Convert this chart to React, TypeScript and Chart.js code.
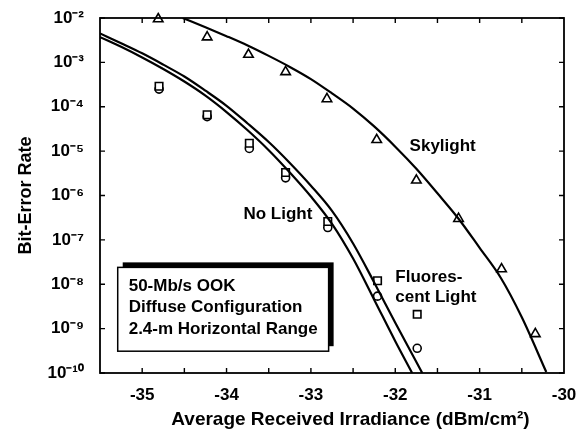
import React, { useEffect, useRef } from 'react';
import { Chart, registerables } from 'chart.js';

Chart.register(...registerables);

// ---- axis ticks ----
const xTickValues = [-35, -34, -33, -32, -31, -30];
const xMinorTickValues = [-35, -34.5, -34, -33.5, -33, -32.5, -32, -31.5, -31, -30.5];
const yTickExponents = [-2, -3, -4, -5, -6, -7, -8, -9, -10];

// ---- measured points ----
const sampleIrradiance = [-34.8, -34.23, -33.73, -33.3, -32.8, -32.21, -31.74];
const noLightBER = [2.5e-4, 6e-5, 1.15e-5, 2.5e-6, 1.9e-7, 5.4e-9, 3.6e-10];
const fluorescentBER = [2.9e-4, 6.6e-5, 1.5e-5, 3.3e-6, 2.6e-7, 1.2e-8, 2.1e-9];
const skylightIrradiance = [-34.81, -34.23, -33.74, -33.3, -32.81, -32.22, -31.75, -31.25, -30.74, -30.34];
const skylightBER = [9.5e-3, 3.7e-3, 1.5e-3, 6.1e-4, 1.5e-4, 1.8e-5, 2.2e-6, 3e-7, 2.2e-8, 7.6e-10];

// ---- theoretical curves ----
const fluorescentFitX = [-35.5, -35.25, -35, -34.75, -34.5, -34.25, -34, -33.75, -33.5, -33.25, -33, -32.75, -32.5, -32.25, -32, -31.68];
const fluorescentFitBER = [4.5e-3, 2.7e-3, 1.6e-3, 8.9e-4, 4.8e-4, 2.3e-4, 1.05e-4, 4.2e-5, 1.6e-5, 5.4e-6, 1.66e-6, 4.5e-7, 8.3e-8, 1.1e-8, 1.35e-9, 1e-10];
const noLightFitX = [-35.5, -35.25, -35, -34.75, -34.5, -34.25, -34, -33.75, -33.5, -33.25, -33, -32.75, -32.5, -32.25, -32, -31.8];
const noLightFitBER = [3.7e-3, 2.24e-3, 1.29e-3, 7.1e-4, 3.7e-4, 1.78e-4, 7.6e-5, 2.95e-5, 1.05e-5, 3.3e-6, 9.5e-7, 2.3e-7, 3.8e-8, 4.5e-9, 5.2e-10, 1e-10];
const skylightFitX = [-34.52, -34.25, -34, -33.75, -33.5, -33.25, -33, -32.75, -32.5, -32.25, -32, -31.75, -31.5, -31.25, -31, -30.75, -30.5, -30.21];
const skylightFitBER = [1e-2, 6.2e-3, 3.9e-3, 2.4e-3, 1.4e-3, 7.9e-4, 4.2e-4, 2.0e-4, 9.1e-5, 3.6e-5, 1.26e-5, 4e-6, 1.12e-6, 3e-7, 6.6e-8, 1.4e-8, 1.8e-9, 1.05e-10];

// ---- annotations (data coordinates) ----
const curveLabels = ['Skylight', 'No Light', 'Fluores-', 'cent Light'];
const curveLabelX = [-31.83, -33.8, -32.0, -32.0];
const curveLabelY = [1.3e-5, 3.7e-7, 1.45e-8, 5.1e-9];
const boxLines = ['50-Mb/s OOK', 'Diffuse Configuration', '2.4-m Horizontal Range'];
const boxLineY = [9e-9, 3e-9, 9.8e-10];
const boxTextX = -35.16;
const boxXRange = [-35.29, -32.79];
const boxYRange = [2.4e-8, 3.1e-10];

const FONT = '"Liberation Sans", Arial, Helvetica, sans-serif';
const SUP: Record<string, string> = {
  '-': '\u207B', '0': '\u2070', '1': '\u00B9', '2': '\u00B2', '3': '\u00B3',
  '4': '\u2074', '5': '\u2075', '6': '\u2076', '7': '\u2077', '8': '\u2078', '9': '\u2079',
};
const sup = (s: string) => s.split('').map((c) => SUP[c] ?? c).join('');

const pairs = (xs: number[], ys: number[]) => xs.map((x, i) => ({ x, y: ys[i] }));

const framePlugin = {
  id: 'frameAndNotes',
  afterDatasetsDraw(chart: any) {
    const { ctx, chartArea: a, scales } = chart;
    const xs = scales.x;
    const ys = scales.y;
    ctx.save();
    ctx.strokeStyle = '#000';
    ctx.lineWidth = 1.8;
    ctx.strokeRect(a.left, a.top, a.right - a.left, a.bottom - a.top);
    ctx.lineWidth = 1.4;
    const tl = 5;
    ctx.beginPath();
    xMinorTickValues.forEach((v) => {
      const px = xs.getPixelForValue(v);
      ctx.moveTo(px, a.bottom);
      ctx.lineTo(px, a.bottom - tl);
      ctx.moveTo(px, a.top);
      ctx.lineTo(px, a.top + tl);
    });
    yTickExponents.forEach((e) => {
      const py = ys.getPixelForValue(Math.pow(10, e));
      ctx.moveTo(a.left, py);
      ctx.lineTo(a.left + tl, py);
      ctx.moveTo(a.right, py);
      ctx.lineTo(a.right - tl, py);
    });
    ctx.stroke();

    ctx.fillStyle = '#000';
    ctx.font = `bold 17px ${FONT}`;
    ctx.textBaseline = 'middle';
    ctx.textAlign = 'left';
    curveLabels.forEach((t, i) => {
      ctx.fillText(t, xs.getPixelForValue(curveLabelX[i]), ys.getPixelForValue(curveLabelY[i]));
    });

    // info box with offset shadow
    const bl = xs.getPixelForValue(boxXRange[0]);
    const br = xs.getPixelForValue(boxXRange[1]);
    const bt = ys.getPixelForValue(boxYRange[0]);
    const bb = ys.getPixelForValue(boxYRange[1]);
    ctx.fillStyle = '#000';
    ctx.fillRect(bl + 5, bt - 5, br - bl, bb - bt);
    ctx.fillStyle = '#fff';
    ctx.fillRect(bl, bt, br - bl, bb - bt);
    ctx.lineWidth = 1.5;
    ctx.strokeRect(bl, bt, br - bl, bb - bt);
    ctx.fillStyle = '#000';
    boxLines.forEach((t, i) => {
      ctx.fillText(t, xs.getPixelForValue(boxTextX), ys.getPixelForValue(boxLineY[i]));
    });
    ctx.restore();
  },
};

export default function App() {
  const ref = useRef<HTMLCanvasElement | null>(null);
  useEffect(() => {
    if (!ref.current) return;
    const lineStyle = { borderColor: '#000', borderWidth: 2.2, pointRadius: 0, showLine: true, cubicInterpolationMode: 'monotone' as const, fill: false };
    const markStyle = { showLine: false, borderColor: '#000', backgroundColor: '#fff', pointBorderWidth: 1.6, clip: false as any };
    const chart = new Chart(ref.current, {
      type: 'scatter',
      data: {
        datasets: [
          { label: 'Fluorescent fit', data: pairs(fluorescentFitX, fluorescentFitBER), ...lineStyle },
          { label: 'No light fit', data: pairs(noLightFitX, noLightFitBER), ...lineStyle },
          { label: 'Skylight fit', data: pairs(skylightFitX, skylightFitBER), ...lineStyle },
          { label: 'Skylight', data: pairs(skylightIrradiance, skylightBER), ...markStyle, pointStyle: 'triangle', pointRadius: 5.5 },
          { label: 'Fluorescent Light', data: pairs(sampleIrradiance, fluorescentBER), ...markStyle, pointStyle: 'rect', pointRadius: 5.3 },
          { label: 'No Light', data: pairs(sampleIrradiance, noLightBER), ...markStyle, pointStyle: 'circle', pointRadius: 4 },
        ] as any,
      },
      options: {
        animation: false,
        responsive: false,
        devicePixelRatio: 1,
        layout: { padding: { left: 0, right: 15, top: 18, bottom: 0 } },
        plugins: { legend: { display: false }, tooltip: { enabled: false } },
        scales: {
          x: {
            type: 'linear',
            min: -35.5,
            max: -30,
            grid: { display: false, drawTicks: false },
            border: { display: false },
            afterBuildTicks: (s: any) => { s.ticks = xTickValues.map((value) => ({ value })); },
            afterFit: (s: any) => { s.height = 56; s.paddingLeft = 0; s.paddingRight = 0; },
            ticks: { color: '#000', padding: 12, font: { family: FONT, size: 17, weight: 'bold' }, callback: (v: any) => String(v) },
            title: {
              display: true,
              text: '       Average Received Irradiance (dBm/cm\u00B2)',
              color: '#000',
              padding: { top: 0, bottom: -2 },
              font: { family: FONT, size: 19, weight: 'bold' },
            },
          },
          y: {
            type: 'logarithmic',
            min: 1e-10,
            max: 1e-2,
            grid: { display: false, drawTicks: false },
            border: { display: false },
            afterBuildTicks: (s: any) => { s.ticks = yTickExponents.map((e) => ({ value: Math.pow(10, e) })); },
            afterFit: (s: any) => { s.width = 100; s.paddingTop = 0; s.paddingBottom = 0; },
            ticks: {
              color: '#000', padding: 16, font: { family: FONT, size: 17, weight: 'bold' },
              callback: (v: any) => '10' + sup(String(Math.round(Math.log10(Number(v))))),
            },
            title: { display: true, text: 'Bit-Error Rate', color: '#000', padding: { top: 15, bottom: 0 }, font: { family: FONT, size: 18, weight: 'bold' } },
          },
        },
      },
      plugins: [framePlugin],
    });
    return () => chart.destroy();
  }, []);
  return (
    <div style={{ position: 'absolute', left: 0, top: 0, width: 579, height: 429, background: '#fff' }}>
      <canvas ref={ref} width={579} height={429} style={{ display: 'block', width: 579, height: 429 }} />
    </div>
  );
}
